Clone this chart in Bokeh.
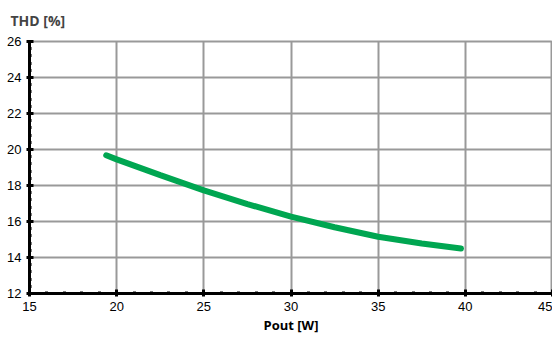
from bokeh.plotting import figure
from bokeh.models import Range1d, FixedTicker, Title
from bokeh.embed import file_html
from bokeh.resources import INLINE

pout = [19.4, 20.0, 22.5, 25.0, 27.5, 30.0, 32.5, 35.0, 37.5, 39.75]
thd = [19.68, 19.45, 18.58, 17.73, 16.97, 16.27, 15.68, 15.15, 14.78, 14.5]
x_ticks = [15, 20, 25, 30, 35, 40, 45]
y_ticks = [12, 14, 16, 18, 20, 22, 24, 26]
x_title = "Pout [W]"
y_title = "THD [%]"

p = figure(width=552, height=333, output_backend="svg", toolbar_location=None,
           x_range=Range1d(15, 45), y_range=Range1d(12, 26),
           min_border_left=29, min_border_right=0, min_border_bottom=0,
           min_border_top=0)

p.title.text = y_title
p.title.text_font = "Open Sans"
p.title.text_font_style = "bold"
p.title.text_font_size = "14px"
p.title.offset = -19
p.title.standoff = 20
p.title.vertical_align = "top"

p.line(pout, thd, line_color="#00A651", line_width=6, line_cap="round")

for ax in (p.xaxis, p.yaxis):
    ax.axis_line_width = 3
    ax.axis_line_color = "black"
    ax.major_tick_line_width = 3
    ax.major_tick_in = 4
    ax.major_tick_out = 3
    ax.minor_tick_line_width = 3
    ax.minor_tick_in = 2
    ax.minor_tick_out = 1
    ax.major_label_text_font = "Liberation Sans"
    ax.major_label_text_font_size = "13px"
    ax.major_label_text_color = "black"

p.xaxis.ticker = FixedTicker(ticks=x_ticks, minor_ticks=[v for v in range(15, 46)])
p.yaxis.ticker = FixedTicker(ticks=y_ticks, minor_ticks=[12 + 0.4 * i for i in range(36)])
p.xaxis.major_label_standoff = 5
p.yaxis.major_label_standoff = 5

p.add_layout(Title(text=x_title, align="center", offset=5, standoff=0,
                   text_line_height=0.6,
                   text_font="Open Sans", text_font_style="bold",
                   text_font_size="13px", text_color="black"), "below")

p.grid.grid_line_color = "#999999"
p.grid.grid_line_width = 2
p.outline_line_color = "#999999"
p.outline_line_width = 2
p.background_fill_color = "white"
p.border_fill_color = "white"

open("out.html", "w").write(file_html(p, INLINE))
